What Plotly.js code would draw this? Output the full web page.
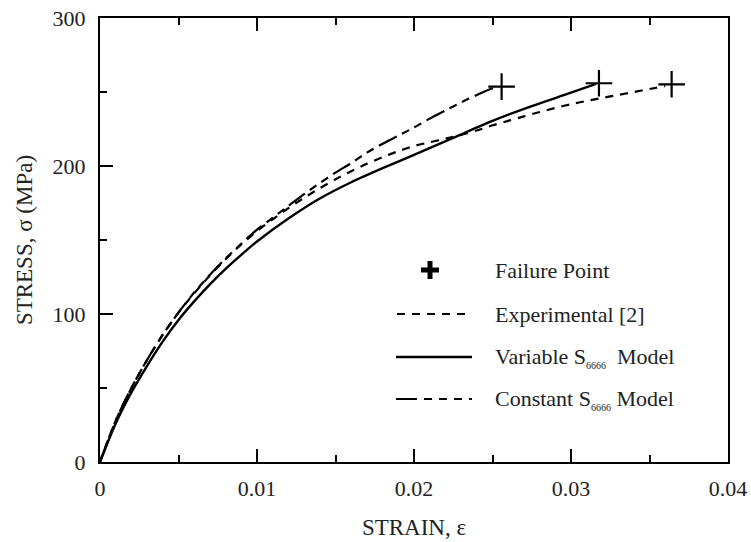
<!DOCTYPE html>
<html>
<head>
<meta charset="utf-8">
<script src="https://cdn.plot.ly/plotly-3.0.1.min.js"></script>
<style>html,body{margin:0;padding:0;background:#fff;}#chart{width:751px;height:542px;}</style>
</head>
<body>
<div id="chart"></div>
<script>
// Experimental [2]
const expStrain = [0, 0.001, 0.002, 0.003, 0.004, 0.005, 0.006, 0.007, 0.008, 0.009, 0.010, 0.011, 0.012, 0.013, 0.014, 0.015, 0.016, 0.017, 0.018, 0.019, 0.020, 0.021, 0.022, 0.023, 0.024, 0.025, 0.026, 0.027, 0.028, 0.029, 0.030, 0.031, 0.032, 0.033, 0.034, 0.035, 0.0360];
const expStress = [0, 28, 50, 69, 86, 101, 114, 126, 137, 147, 156, 164, 171.5, 178.5, 185, 191, 196.5, 201.5, 206, 210, 213.5, 216, 218.5, 221, 224, 227.5, 230.5, 233.5, 236.5, 239.2, 241.8, 244, 246, 248, 250, 252, 254];
// Variable S6666 model
const varStrain = [0, 0.001, 0.002, 0.003, 0.004, 0.005, 0.006, 0.007, 0.008, 0.009, 0.010, 0.012, 0.014, 0.016, 0.018, 0.020, 0.0225, 0.025, 0.0275, 0.030, 0.0316];
const varStress = [0, 26, 47, 65, 81.5, 96, 108.5, 120, 130.5, 140, 149, 164.5, 178, 189, 198.5, 207.5, 219, 230.5, 240.5, 249.5, 255.5];
// Constant S6666 model
const conStrain = [0, 0.001, 0.002, 0.003, 0.004, 0.005, 0.006, 0.007, 0.008, 0.009, 0.010, 0.011, 0.012, 0.013, 0.014, 0.015, 0.016, 0.017, 0.018, 0.019, 0.020, 0.021, 0.022, 0.023, 0.024, 0.025, 0.0254];
const conStress = [0, 28, 50, 69, 86, 101, 114.5, 126.5, 137.5, 147.5, 157, 165, 173, 181, 188.5, 195.5, 202, 209, 215, 220.5, 226, 232, 237.5, 243, 248, 252.5, 253.5];
// Failure points
const failStrain = [0.02558, 0.03178, 0.03641];
const failStress = [253.6, 255.9, 255.2];

const xTicks = [0, 0.01, 0.02, 0.03, 0.04];
const xTickText = ["0", "0.01", "0.02", "0.03", "0.04"];
const yTicks = [0, 100, 200, 300];
const yTickText = ["0", "100", "200", "300"];

const legendLabels = ["Failure Point", "Experimental [2]",
  "Variable S<sub><span style='font-size:10px'>6666</span></sub>  Model",
  "Constant S<sub><span style='font-size:10px'>6666</span></sub> Model"];

const FONT = "'Liberation Serif', 'Times New Roman', serif";

const traces = [
  {x: expStrain, y: expStress, mode: 'lines', line: {color: '#000', width: 2.2, dash: '8px,7px', shape: 'spline', smoothing: 0.8}, showlegend: false, hoverinfo: 'skip'},
  {x: varStrain, y: varStress, mode: 'lines', line: {color: '#000', width: 2.4, shape: 'spline', smoothing: 0.8}, showlegend: false, hoverinfo: 'skip'},
  {x: conStrain, y: conStress, mode: 'lines', line: {color: '#000', width: 2.2, dash: '20px,6px,8px,6px,8px,6px', shape: 'spline', smoothing: 0.8}, showlegend: false, hoverinfo: 'skip'},
  {x: failStrain, y: failStress, mode: 'markers', marker: {symbol: 'cross-thin', size: 19, line: {color: '#000', width: 2.2}}, showlegend: false, hoverinfo: 'skip'}
];

// legend geometry in pixels converted to paper coords
const L = 100, R = 728, T = 18, B = 462;
const px = v => (v - L) / (R - L);
const py = v => (B - v) / (B - T);
const rowsY = [270, 314, 357, 399];

const shapes = [
  {type: 'line', xref: 'paper', yref: 'paper', x0: px(397), x1: px(472), y0: py(rowsY[1]), y1: py(rowsY[1]), line: {color: '#000', width: 2.2, dash: '8px,7px'}},
  {type: 'line', xref: 'paper', yref: 'paper', x0: px(396), x1: px(472), y0: py(rowsY[2]), y1: py(rowsY[2]), line: {color: '#000', width: 2.4}},
  {type: 'line', xref: 'paper', yref: 'paper', x0: px(396), x1: px(472), y0: py(rowsY[3]), y1: py(rowsY[3]), line: {color: '#000', width: 2.2, dash: '21px,7px,8px,7px,8px,7px,8px,7px'}},
  // bold plus for legend
  {type: 'line', xref: 'paper', yref: 'paper', x0: px(421), x1: px(439), y0: py(rowsY[0]), y1: py(rowsY[0]), line: {color: '#000', width: 5}},
  {type: 'line', xref: 'paper', yref: 'paper', x0: px(430), x1: px(430), y0: py(rowsY[0] - 9), y1: py(rowsY[0] + 9), line: {color: '#000', width: 5}}
];

const annotations = legendLabels.map((t, i) => ({
  xref: 'paper', yref: 'paper', x: px(493), y: py(rowsY[i]), xanchor: 'left', yanchor: 'middle',
  text: t, showarrow: false, font: {family: FONT, size: 22, color: '#222'}
}));

const layout = {
  width: 751, height: 542,
  margin: {l: L, r: 751 - R, t: T, b: 542 - B},
  paper_bgcolor: '#fff', plot_bgcolor: '#fff',
  font: {family: FONT, size: 22, color: '#222'},
  showlegend: false,
  xaxis: {
    range: [0, 0.04], tickvals: xTicks, ticktext: xTickText,
    showgrid: false, zeroline: false,
    showline: true, linecolor: '#000', linewidth: 2, mirror: 'ticks',
    ticks: 'inside', ticklen: 13, tickwidth: 2, tickcolor: '#000',
    minor: {dtick: 0.005, ticks: 'inside', ticklen: 7, tickwidth: 2, tickcolor: '#000', showgrid: false},
    tickfont: {family: FONT, size: 22, color: '#222'},
    ticklabelstandoff: 6,
    title: {text: 'STRAIN, ε', font: {family: FONT, size: 23, color: '#222'}, standoff: 18}
  },
  yaxis: {
    range: [0, 300], tickvals: yTicks, ticktext: yTickText,
    showgrid: false, zeroline: false,
    showline: true, linecolor: '#000', linewidth: 2, mirror: true,
    ticks: 'inside', ticklen: 13, tickwidth: 2, tickcolor: '#000',
    minor: {dtick: 50, ticks: 'inside', ticklen: 7, tickwidth: 2, tickcolor: '#000', showgrid: false},
    tickfont: {family: FONT, size: 22, color: '#222'},
    ticklabelstandoff: 8,
    title: {text: 'STRESS, σ (MPa)', font: {family: FONT, size: 23, color: '#222'}, standoff: 14}
  },
  shapes: shapes,
  annotations: annotations
};

Plotly.newPlot('chart', traces, layout, {displayModeBar: false, staticPlot: true});
</script>
</body>
</html>
